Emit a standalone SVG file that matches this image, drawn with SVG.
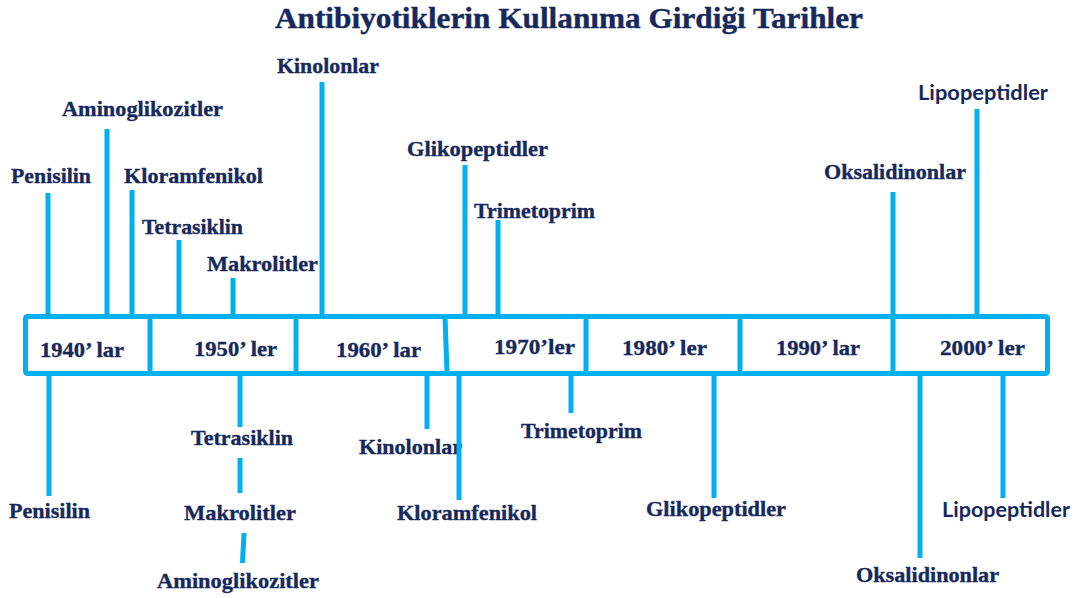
<svg xmlns="http://www.w3.org/2000/svg" width="1078" height="598" viewBox="0 0 1078 598">
<style>
.t{font-family:"Liberation Serif","Times New Roman",serif;font-weight:700;font-size:21px;fill:#17295c;stroke:#17295c;stroke-width:0.35}
.s{font-family:Lato,"Liberation Sans",Arial,sans-serif;font-weight:700;font-size:20px;fill:#17295c}
.ttl{font-family:"Liberation Serif","Times New Roman",serif;font-weight:700;font-size:30px;fill:#17295c;stroke:#17295c;stroke-width:0.4}
.ln{stroke:#00b0f0;stroke-width:5;fill:none}
</style>
<rect width="1078" height="598" fill="#ffffff"/>
<text id="title" class="ttl" x="275" y="28" textLength="588" lengthAdjust="spacingAndGlyphs">Antibiyotiklerin Kullanıma Girdiği Tarihler</text>

<g id="timeline">
<rect class="ln" x="25.5" y="316.5" width="1022" height="57" rx="2"/>
<line class="ln" x1="150" y1="317" x2="150" y2="373"/>
<line class="ln" x1="296" y1="317" x2="296" y2="373"/>
<line class="ln" x1="445" y1="317" x2="447" y2="373"/>
<line class="ln" x1="586" y1="317" x2="586" y2="373"/>
<line class="ln" x1="740" y1="317" x2="740" y2="373"/>
<line class="ln" x1="893" y1="317" x2="893" y2="373"/>
</g>

<g id="decades">
<text id="d1940" class="t" x="40" y="357" textLength="84" lengthAdjust="spacingAndGlyphs">1940’ lar</text>
<text id="d1950" class="t" x="194" y="356" textLength="83" lengthAdjust="spacingAndGlyphs">1950’ ler</text>
<text id="d1960" class="t" x="336" y="357" textLength="85" lengthAdjust="spacingAndGlyphs">1960’ lar</text>
<text id="d1970" class="t" x="494" y="354" textLength="81" lengthAdjust="spacingAndGlyphs">1970’ler</text>
<text id="d1980" class="t" x="622" y="355" textLength="85" lengthAdjust="spacingAndGlyphs">1980’ ler</text>
<text id="d1990" class="t" x="776" y="355" textLength="84" lengthAdjust="spacingAndGlyphs">1990’ lar</text>
<text id="d2000" class="t" x="940" y="355" textLength="85" lengthAdjust="spacingAndGlyphs">2000’ ler</text>
</g>

<g id="top-labels">
<text id="t-penisilin" class="t" x="11" y="183" textLength="80" lengthAdjust="spacingAndGlyphs">Penisilin</text>
<text id="t-amino" class="t" x="62" y="116" textLength="161" lengthAdjust="spacingAndGlyphs">Aminoglikozitler</text>
<text id="t-kloram" class="t" x="124" y="183" textLength="139" lengthAdjust="spacingAndGlyphs">Kloramfenikol</text>
<text id="t-tetra" class="t" x="142" y="234" textLength="101" lengthAdjust="spacingAndGlyphs">Tetrasiklin</text>
<text id="t-makro" class="t" x="207" y="271" textLength="111" lengthAdjust="spacingAndGlyphs">Makrolitler</text>
<text id="t-kinolon" class="t" x="277" y="73" textLength="102" lengthAdjust="spacingAndGlyphs">Kinolonlar</text>
<text id="t-gliko" class="t" x="407" y="156" textLength="141" lengthAdjust="spacingAndGlyphs">Glikopeptidler</text>
<text id="t-trimeto" class="t" x="474" y="218" textLength="121" lengthAdjust="spacingAndGlyphs">Trimetoprim</text>
<text id="t-oksa" class="t" x="824" y="179" textLength="142" lengthAdjust="spacingAndGlyphs">Oksalidinonlar</text>
<text id="t-lipo" class="s" x="918" y="100" textLength="130" lengthAdjust="spacingAndGlyphs">Lipopeptidler</text>
</g>

<g id="bottom-labels">
<text id="b-penisilin" class="t" x="9" y="518" textLength="81" lengthAdjust="spacingAndGlyphs">Penisilin</text>
<text id="b-tetra" class="t" x="191" y="445" textLength="102" lengthAdjust="spacingAndGlyphs">Tetrasiklin</text>
<text id="b-makro" class="t" x="184" y="520" textLength="112" lengthAdjust="spacingAndGlyphs">Makrolitler</text>
<text id="b-amino" class="t" x="157" y="588" textLength="162" lengthAdjust="spacingAndGlyphs">Aminoglikozitler</text>
<text id="b-kinolon" class="t" x="359" y="454" textLength="103" lengthAdjust="spacingAndGlyphs">Kinolonlar</text>
<text id="b-kloram" class="t" x="397" y="520" textLength="140" lengthAdjust="spacingAndGlyphs">Kloramfenikol</text>
<text id="b-trimeto" class="t" x="521" y="438" textLength="121" lengthAdjust="spacingAndGlyphs">Trimetoprim</text>
<text id="b-gliko" class="t" x="646" y="516" textLength="140" lengthAdjust="spacingAndGlyphs">Glikopeptidler</text>
<text id="b-oksa" class="t" x="856" y="582" textLength="143" lengthAdjust="spacingAndGlyphs">Oksalidinonlar</text>
<text id="b-lipo" class="s" x="942" y="517" textLength="128" lengthAdjust="spacingAndGlyphs">Lipopeptidler</text>
</g>

<g id="connectors">
<line class="ln" x1="48" y1="193" x2="48" y2="317"/>
<line class="ln" x1="107" y1="129" x2="107" y2="317"/>
<line class="ln" x1="132" y1="190" x2="132" y2="317"/>
<line class="ln" x1="179" y1="240" x2="179" y2="317"/>
<line class="ln" x1="233" y1="278" x2="233" y2="317"/>
<line class="ln" x1="322" y1="82" x2="322" y2="317"/>
<line class="ln" x1="465" y1="165" x2="465" y2="317"/>
<line class="ln" x1="498" y1="220" x2="498" y2="317"/>
<line class="ln" x1="893" y1="192" x2="893" y2="317"/>
<line class="ln" x1="977" y1="109" x2="977" y2="317"/>

<line class="ln" x1="49" y1="373" x2="49" y2="496"/>
<line class="ln" x1="240" y1="373" x2="240" y2="427"/>
<line class="ln" x1="240" y1="458" x2="240" y2="493"/>
<line class="ln" x1="244" y1="533" x2="242.5" y2="563"/>
<line class="ln" x1="427" y1="373" x2="427" y2="429"/>
<line class="ln" x1="459" y1="373" x2="459" y2="500"/>
<line class="ln" x1="571" y1="373" x2="571" y2="413"/>
<line class="ln" x1="714" y1="373" x2="714" y2="498"/>
<line class="ln" x1="920" y1="373" x2="920" y2="558"/>
<line class="ln" x1="1003" y1="373" x2="1003" y2="498"/>
</g>
</svg>
